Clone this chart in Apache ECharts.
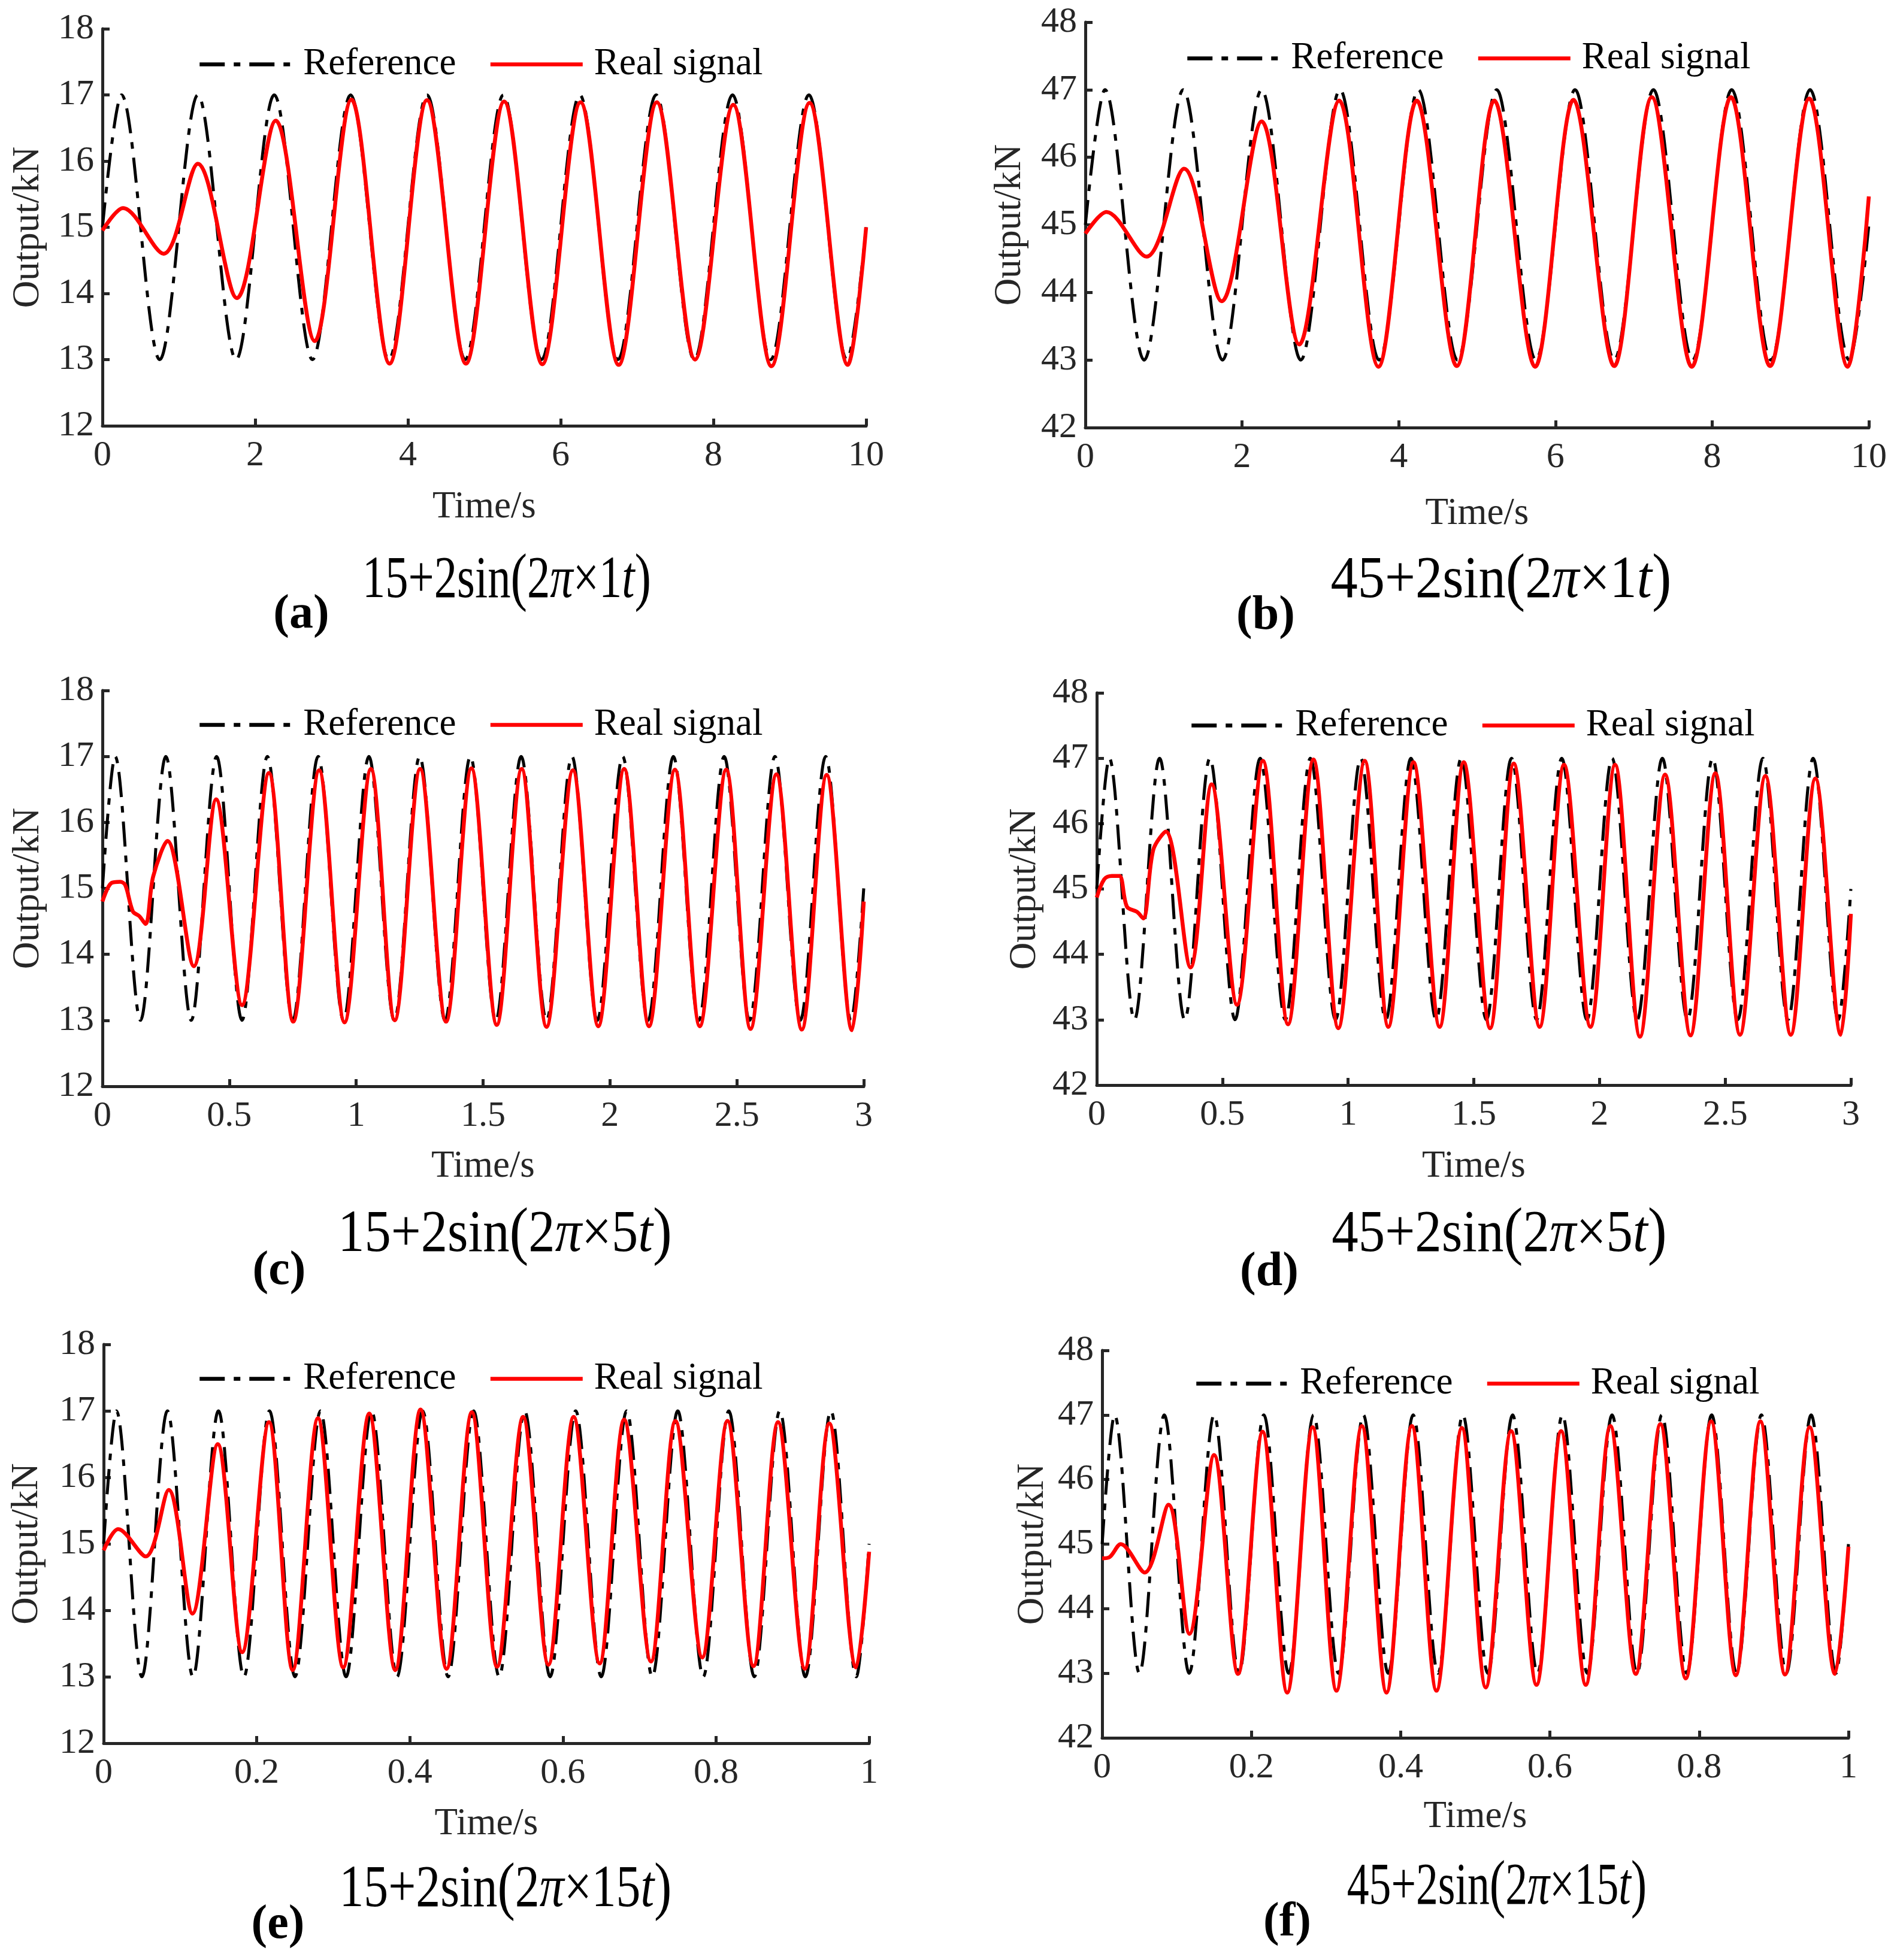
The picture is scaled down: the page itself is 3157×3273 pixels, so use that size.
<!DOCTYPE html>
<html>
<head>
<meta charset="utf-8">
<title>Reference vs real signal</title>
<script src="https://cdn.jsdelivr.net/npm/echarts@6.0.0/dist/echarts.min.js"></script>
<style>
  html, body { margin: 0; padding: 0; background: #fff; }
  #chart { width: 3157px; height: 3273px; }
</style>
</head>
<body>
<div id="chart"></div>
<script>
// values: [time s, output kN] at start, peaks, troughs, end
const refA = [[0,15],[0.25,17],[0.75,13],[1.25,17],[1.75,13],[2.25,17],[2.75,13],[3.25,17],[3.75,13],[4.25,17],[4.75,13],
  [5.25,17],[5.75,13],[6.25,17],[6.75,13],[7.25,17],[7.75,13],[8.25,17],[8.75,13],[9.25,17],[9.75,13],[10,15]]
const realA = [[0,14.95],[0.27,15.29],[0.8,14.6],[1.25,15.96],[1.76,13.93],[2.27,16.61],[2.78,13.28],[3.26,16.93],[3.76,12.94],
  [4.25,16.92],[4.76,12.94],[5.26,16.9],[5.76,12.93],[6.26,16.89],[6.76,12.92],[7.26,16.89],[7.76,13.0],[8.26,16.85],
  [8.76,12.9],[9.26,16.88],[9.76,12.92],[10,15.0]]

const refB = [[0,45],[0.25,47],[0.75,43],[1.25,47],[1.75,43],[2.25,47],[2.75,43],[3.25,47],[3.75,43],[4.25,47],[4.75,43],
  [5.25,47],[5.75,43],[6.25,47],[6.75,43],[7.25,47],[7.75,43],[8.25,47],[8.75,43],[9.25,47],[9.75,43],[10,45]]
const realB = [[0,44.87],[0.27,45.19],[0.78,44.53],[1.26,45.83],[1.74,43.87],[2.25,46.53],[2.73,43.23],[3.24,46.84],[3.74,42.9],
  [4.23,46.84],[4.74,42.91],[5.22,46.84],[5.74,42.9],[6.23,46.85],[6.75,42.91],[7.23,46.89],[7.74,42.9],[8.24,46.89],
  [8.74,42.91],[9.24,46.87],[9.73,42.9],[10,45.42]]

const refC = [[0,15],[0.05,17],[0.15,13],[0.25,17],[0.35,13],[0.45,17],[0.55,13],[0.65,17],[0.75,13],[0.85,17],[0.95,13],
  [1.05,17],[1.15,13],[1.25,17],[1.35,13],[1.45,17],[1.55,13],[1.65,17],[1.75,13],[1.85,17],[1.95,13],[2.05,17],[2.15,13],
  [2.25,17],[2.35,13],[2.45,17],[2.55,13],[2.65,17],[2.75,13],[2.85,17],[2.95,13],[3,15]]
const realC = [[0,14.8],[0.035,15.08],[0.07,15.1],[0.09,15.05],[0.12,14.65],[0.145,14.58],[0.17,14.46],[0.2,15.18],[0.256,15.72],
  [0.36,13.82],[0.448,16.35],[0.55,13.23],[0.656,16.75],[0.752,12.98],[0.854,16.79],[0.954,12.97],[1.058,16.81],[1.152,13.0],
  [1.252,16.81],[1.354,12.98],[1.454,16.82],[1.554,12.93],[1.652,16.81],[1.75,12.9],[1.854,16.79],[1.954,12.91],[2.056,16.81],
  [2.154,12.91],[2.256,16.8],[2.354,12.91],[2.458,16.8],[2.554,12.87],[2.656,16.73],[2.756,12.86],[2.854,16.72],[2.954,12.85],
  [3,14.8]]

const refD = [[0,45],[0.05,47],[0.15,43],[0.25,47],[0.35,43],[0.45,47],[0.55,43],[0.65,47],[0.75,43],[0.85,47],[0.95,43],
  [1.05,47],[1.15,43],[1.25,47],[1.35,43],[1.45,47],[1.55,43],[1.65,47],[1.75,43],[1.85,47],[1.95,43],[2.05,47],[2.15,43],
  [2.25,47],[2.35,43],[2.45,47],[2.55,43],[2.65,47],[2.75,43],[2.85,47],[2.95,43],[3,45]]
const realD = [[0,44.87],[0.03,45.15],[0.06,45.2],[0.09,45.2],[0.12,44.73],[0.16,44.65],[0.185,44.55],[0.225,45.6],[0.275,45.88],
  [0.373,43.8],[0.457,46.6],[0.558,43.23],[0.661,46.96],[0.761,42.93],[0.862,46.98],[0.961,42.87],[1.066,46.96],[1.16,42.89],
  [1.26,46.94],[1.364,42.89],[1.46,46.94],[1.565,42.87],[1.659,46.92],[1.762,42.89],[1.859,46.9],[1.964,42.89],[2.062,46.9],
  [2.161,42.74],[2.261,46.75],[2.362,42.76],[2.461,46.77],[2.559,42.77],[2.66,46.73],[2.761,42.77],[2.859,46.69],[2.96,42.77],
  [3,44.62]]

const refE = [[0,15],[0.0167,17],[0.05,13],[0.0833,17],[0.1167,13],[0.15,17],[0.1833,13],[0.2167,17],[0.25,13],[0.2833,17],
  [0.3167,13],[0.35,17],[0.3833,13],[0.4167,17],[0.45,13],[0.4833,17],[0.5167,13],[0.55,17],[0.5833,13],[0.6167,17],[0.65,13],
  [0.6833,17],[0.7167,13],[0.75,17],[0.7833,13],[0.8167,17],[0.85,13],[0.8833,17],[0.9167,13],[0.95,17],[0.9833,13],[1,15]]
const realE = [[0,14.9],[0.019,15.22],[0.055,14.81],[0.085,15.81],[0.116,13.95],[0.149,16.5],[0.181,13.37],[0.216,16.83],
  [0.247,13.1],[0.28,16.89],[0.313,13.14],[0.347,16.96],[0.381,13.1],[0.414,17.02],[0.448,13.12],[0.481,16.98],[0.514,13.15],
  [0.548,16.91],[0.581,13.18],[0.614,16.91],[0.648,13.2],[0.68,16.87],[0.715,13.23],[0.747,16.85],[0.782,13.29],[0.815,16.85],
  [0.849,13.16],[0.881,16.83],[0.916,13.12],[0.948,16.81],[0.983,13.14],[1,14.88]]

const refF = [[0,45],[0.0167,47],[0.05,43],[0.0833,47],[0.1167,43],[0.15,47],[0.1833,43],[0.2167,47],[0.25,43],[0.2833,47],
  [0.3167,43],[0.35,47],[0.3833,43],[0.4167,47],[0.45,43],[0.4833,47],[0.5167,43],[0.55,47],[0.5833,43],[0.6167,47],[0.65,43],
  [0.6833,47],[0.7167,43],[0.75,47],[0.7833,43],[0.8167,47],[0.85,43],[0.8833,47],[0.9167,43],[0.95,47],[0.9833,43],[1,45]]
const realF = [[0,44.78],[0.01,44.8],[0.025,45.0],[0.057,44.56],[0.089,45.61],[0.117,43.61],[0.15,46.38],[0.182,42.99],
  [0.215,46.74],[0.248,42.7],[0.282,46.81],[0.314,42.73],[0.348,46.83],[0.381,42.7],[0.415,46.83],[0.448,42.73],[0.482,46.8],
  [0.514,42.78],[0.548,46.75],[0.582,42.82],[0.615,46.75],[0.648,42.82],[0.681,46.83],[0.715,42.99],[0.748,46.86],[0.782,42.92],
  [0.816,46.9],[0.849,42.97],[0.882,46.9],[0.915,42.98],[0.948,46.81],[0.982,42.99],[1,44.96]]

// axis ranges and ticks per panel
const xMax = [10, 10, 3, 3, 1, 1]
const xStep = [2, 2, 0.5, 0.5, 0.2, 0.2]
const yMin = [12, 42, 12, 42, 12, 42]
const yMax = [18, 48, 18, 48, 18, 48]
const offsets = ['15', '45', '15', '45', '15', '45']
const freqs = ['1', '1', '5', '5', '15', '15']
const tags = ['(a)', '(b)', '(c)', '(d)', '(e)', '(f)']
const refData = [refA, refB, refC, refD, refE, refF]
const realData = [realA, realB, realC, realD, realE, realF]

// layout in page pixels
const layout = [
  { l: 171, t: 48, r: 1446, b: 711, yGap: 92, xGap: 105, lgL: 330, lgT: 76, fx: 846, fy: 971, fs: 0.766, tx: 503, ty: 1027 },
  { l: 1812, t: 37, r: 3120, b: 714, yGap: 94, xGap: 113, lgL: 1979, lgT: 66, fx: 2506, fy: 971, fs: 0.904, tx: 2113, ty: 1029 },
  { l: 171, t: 1153, r: 1442, b: 1814, yGap: 92, xGap: 103, lgL: 330, lgT: 1179, fx: 843, fy: 2063, fs: 0.886, tx: 466, ty: 2123 },
  { l: 1831, t: 1157, r: 3090, b: 1812, yGap: 88, xGap: 105, lgL: 1986, lgT: 1180, fx: 2503, fy: 2063, fs: 0.889, tx: 2119, ty: 2125 },
  { l: 173, t: 2245, r: 1451, b: 2911, yGap: 96, xGap: 104, lgL: 330, lgT: 2271, fx: 844, fy: 3157, fs: 0.817, tx: 464, ty: 3215 },
  { l: 1840, t: 2255, r: 3086, b: 2902, yGap: 84, xGap: 101, lgL: 1994, lgT: 2279, fx: 2499, fy: 3153, fs: 0.737, tx: 2149, ty: 3211 }
]

const SERIF = "'Liberation Serif', 'Times New Roman', serif"
const INK = '#262626'

const chart = echarts.init(document.getElementById('chart'), null, { renderer: 'canvas' })

const axisCommon = {
  type: 'value',
  axisLine: { onZero: false, lineStyle: { color: INK, width: 5 } },
  axisTick: { inside: true, length: 12, lineStyle: { color: INK, width: 5 } },
  axisLabel: { fontFamily: SERIF, fontSize: 60, color: INK },
  splitLine: { show: false },
  nameLocation: 'middle',
  nameTextStyle: { fontFamily: SERIF, fontSize: 63, color: INK }
}

const series = []
refData.forEach((d, i) => {
  series.push({
    name: 'Reference', type: 'line', xAxisIndex: i, yAxisIndex: i, data: d,
    symbol: 'none', smooth: 0.33, z: 2,
    lineStyle: { color: '#000', width: 5, type: [42, 15, 11, 15] }
  })
  series.push({
    name: 'Real signal', type: 'line', xAxisIndex: i, yAxisIndex: i, data: realData[i],
    symbol: 'none', smooth: 0.33, z: 3,
    lineStyle: { color: '#ff0000', width: 6.5 }
  })
})

function formulaText(i) {
  return '{n|' + offsets[i] + '+2sin}{p|(}{n|2}{i|π}{n|×' + freqs[i] + '}{i|t}{p|)}'
}

const graphic = []
layout.forEach((p, i) => {
  graphic.push({
    type: 'text', x: p.fx, y: p.fy, scaleX: p.fs,
    style: {
      text: formulaText(i), align: 'center', verticalAlign: 'middle', fill: '#000',
      rich: {
        n: { fontFamily: SERIF, fontSize: 100, fill: '#000' },
        i: { fontFamily: SERIF, fontSize: 100, fontStyle: 'italic', fill: '#000' },
        p: { fontFamily: SERIF, fontSize: 108, fill: '#000' }
      }
    }
  })
  graphic.push({
    type: 'text', x: p.tx, y: p.ty,
    style: {
      text: tags[i], fontFamily: SERIF, fontSize: 80, fontWeight: 'bold',
      fill: '#000', align: 'center', verticalAlign: 'middle'
    }
  })
})

chart.setOption({
  animation: false,
  backgroundColor: '#fff',
  grid: layout.map(p => ({ left: p.l, top: p.t, width: p.r - p.l, height: p.b - p.t, containLabel: false })),
  xAxis: layout.map((p, i) => Object.assign({}, axisCommon, {
    gridIndex: i, min: 0, max: xMax[i], interval: xStep[i],
    name: 'Time/s', nameGap: p.xGap,
    axisLabel: Object.assign({}, axisCommon.axisLabel, { margin: 20 })
  })),
  yAxis: layout.map((p, i) => Object.assign({}, axisCommon, {
    gridIndex: i, min: yMin[i], max: yMax[i], interval: 1,
    name: 'Output/kN', nameGap: p.yGap,
    axisLabel: Object.assign({}, axisCommon.axisLabel, { margin: 14 })
  })),
  legend: layout.map(p => ({
    left: p.lgL, top: p.lgT, padding: 0, orient: 'horizontal',
    itemWidth: 154, itemHeight: 20, itemGap: 54, selectedMode: false,
    data: ['Reference', 'Real signal'],
    itemStyle: { opacity: 0 },
    lineStyle: { width: 6.5 },
    textStyle: { fontFamily: SERIF, fontSize: 63, color: '#000', padding: [0, 0, 0, 14] }
  })),
  series: series,
  graphic: graphic
})
</script>
</body>
</html>
